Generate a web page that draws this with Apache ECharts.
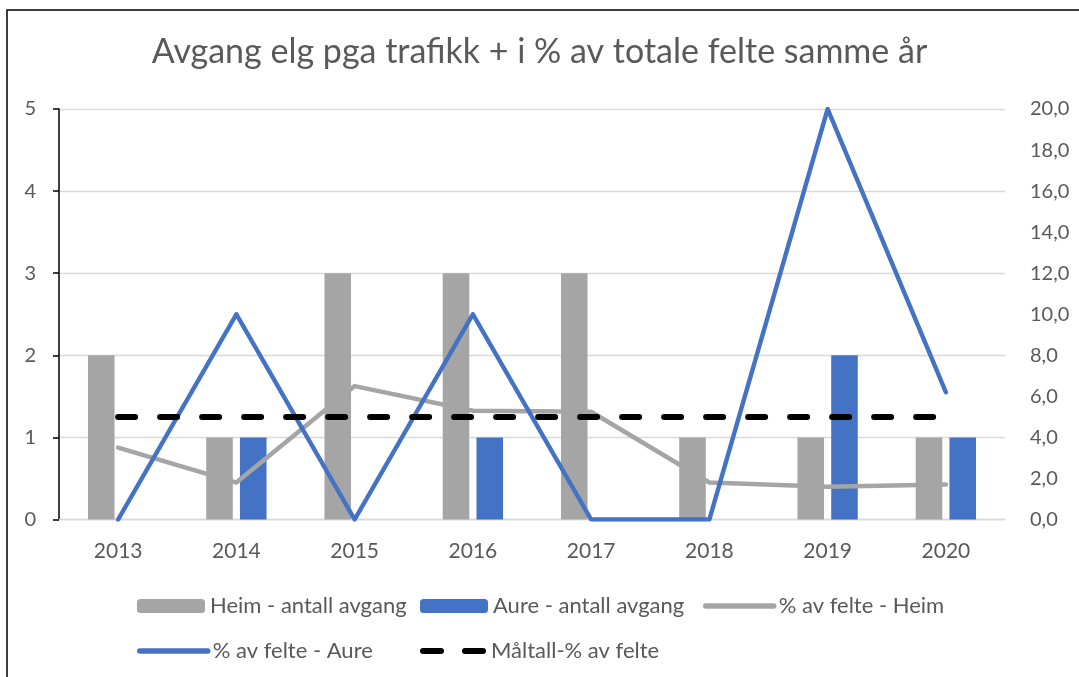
<!DOCTYPE html>
<html>
<head>
<meta charset="utf-8">
<title>Avgang elg</title>
<script src="https://cdn.jsdelivr.net/npm/echarts@6/dist/echarts.min.js"></script>
<style>
  html, body { margin: 0; padding: 0; background: #fff; }
  #chart { width: 1079px; height: 677px; }
</style>
</head>
<body>
<div id="chart"></div>
<script>
var years = ['2013', '2014', '2015', '2016', '2017', '2018', '2019', '2020'];
var heimAntall = [2, 1, 3, 3, 3, 1, 1, 1];
var aureAntall = [0, 1, 0, 1, 0, 0, 2, 1];
var heimPst = [3.5, 1.8, 6.5, 5.3, 5.25, 1.8, 1.6, 1.7];
var aurePst = [0, 10, 0, 10, 0, 0, 20, 6.2];
var maltall = [5, 5, 5, 5, 5, 5, 5, 5];

var textColor = '#595959';
var fontFam = 'Lato';

var myChart = echarts.init(document.getElementById('chart'));

// one legend per entry so the two rows line up like the original
function legendAt(name, left, top, lineStyle) {
    var lg = {
        data: [name],
        left: left,
        top: top,
        itemWidth: 68,
        itemHeight: 14,
        itemGap: 0,
        textStyle: { color: textColor, fontSize: 22, fontFamily: fontFam }
    };
    if (lineStyle) {
        lg.itemStyle = { opacity: 0 };
        lg.lineStyle = lineStyle;
    }
    return lg;
}

// two rounded dashes for the target line legend
var dashLegend = legendAt('Måltall-% av felte', 415, 635);
dashLegend.data = [{
    name: 'Måltall-% av felte',
    icon: 'path://M3,0 L21,0 A3,3 0 0 1 21,6 L3,6 A3,3 0 0 1 3,0 Z M45,0 L63,0 A3,3 0 0 1 63,6 L45,6 A3,3 0 0 1 45,0 Z'
}];
dashLegend.itemWidth = 66;
dashLegend.itemHeight = 6;

var option = {
    backgroundColor: '#fff',
    animation: false,
    title: {
        text: 'Avgang elg pga trafikk + i % av totale felte samme år',
        left: 'center',
        top: 30,
        textStyle: { color: textColor, fontSize: 34, fontWeight: 'normal', fontFamily: fontFam }
    },
    graphic: [{
        type: 'rect',
        shape: { x: 7, y: 10, width: 1100, height: 700 },
        style: { fill: 'none', stroke: '#000', lineWidth: 1.5 },
        silent: true
    }],
    legend: [
        legendAt('Heim - antall avgang', 132, 590),
        legendAt('Aure - antall avgang', 415, 590),
        legendAt('% av felte - Heim', 698, 590, { width: 5.5 }),
        legendAt('% av felte - Aure', 132, 635, { width: 5.5 }),
        dashLegend
    ],
    grid: { left: 59, right: 74, top: 109, bottom: 157.5 },
    xAxis: {
        type: 'category',
        data: years,
        axisLine: { lineStyle: { color: '#d9d9d9', width: 1.3 } },
        axisTick: { show: false },
        axisLabel: { color: textColor, fontSize: 21, fontFamily: fontFam, margin: 21 }
    },
    yAxis: [{
        type: 'value',
        min: 0, max: 5, interval: 1,
        axisLine: { show: true, lineStyle: { color: '#000', width: 1.5 } },
        axisTick: { show: true, length: 6, lineStyle: { color: '#000', width: 1.5 } },
        axisLabel: { color: textColor, fontSize: 20, fontFamily: fontFam, margin: 23 },
        splitLine: { lineStyle: { color: '#d9d9d9', width: 1.3 } }
    }, {
        type: 'value',
        min: 0, max: 20, interval: 2,
        axisLine: { show: false },
        axisTick: { show: false },
        splitLine: { show: false },
        axisLabel: {
            color: textColor, fontSize: 20, fontFamily: fontFam, margin: 25,
            formatter: function (v) { return v.toFixed(1).replace('.', ','); }
        }
    }],
    series: [
        {
            name: 'Heim - antall avgang',
            type: 'bar',
            data: heimAntall,
            barGap: '27%',
            barCategoryGap: '49%',
            itemStyle: { color: '#a5a5a5' }
        },
        {
            name: 'Aure - antall avgang',
            type: 'bar',
            data: aureAntall,
            itemStyle: { color: '#4472c4' }
        },
        {
            name: '% av felte - Heim',
            type: 'line',
            yAxisIndex: 1,
            data: heimPst,
            symbol: 'none',
            itemStyle: { color: '#a5a5a5' },
            lineStyle: { color: '#a5a5a5', width: 4.5, cap: 'round', join: 'round' }
        },
        {
            name: '% av felte - Aure',
            type: 'line',
            yAxisIndex: 1,
            data: aurePst,
            symbol: 'none',
            itemStyle: { color: '#4472c4' },
            lineStyle: { color: '#4472c4', width: 4.5, cap: 'round', join: 'round' }
        },
        {
            name: 'Måltall-% av felte',
            type: 'line',
            yAxisIndex: 1,
            data: maltall,
            symbol: 'none',
            itemStyle: { color: '#000' },
            lineStyle: { color: '#000', width: 6, type: [17, 25], cap: 'round' }
        }
    ]
};

myChart.setOption(option);
</script>
</body>
</html>
